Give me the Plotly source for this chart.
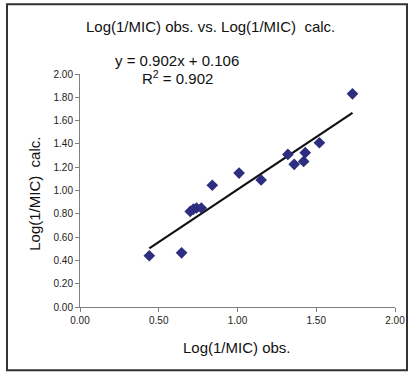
import plotly.graph_objects as go

obs = [0.44, 0.645, 0.70, 0.72, 0.74, 0.77, 0.84, 1.01, 1.15, 1.32, 1.36, 1.42, 1.43, 1.52, 1.73]
calc = [0.44, 0.465, 0.82, 0.84, 0.85, 0.85, 1.045, 1.15, 1.09, 1.31, 1.225, 1.25, 1.325, 1.41, 1.83]
slope = 0.902
intercept = 0.106
x_ticks = [0.0, 0.5, 1.0, 1.5, 2.0]
y_ticks = [0.0, 0.2, 0.4, 0.6, 0.8, 1.0, 1.2, 1.4, 1.6, 1.8, 2.0]

W, H = 410, 373
L, R, T, B = 80, 15, 74, 65.5
PW, PH = W - L - R, H - T - B

def px(x):
    return (x - L) / PW

def py(y):
    return (H - B - y) / PH

FONT = "Liberation Sans, Arial, sans-serif"

trend_x = [min(obs), max(obs)]
trend_y = [slope * v + intercept for v in trend_x]

fig = go.Figure()
fig.add_trace(go.Scatter(x=trend_x, y=trend_y, mode="lines",
                         line=dict(color="#111111", width=2.2), showlegend=False))
fig.add_trace(go.Scatter(x=obs, y=calc, mode="markers",
                         marker=dict(symbol="diamond", size=9, color="#2E2E80"),
                         showlegend=False))

axis_common = dict(showgrid=False, zeroline=False, showline=True, linecolor="#808080",
                   linewidth=1, ticks="outside", ticklen=4, tickcolor="#808080",
                   automargin=False,
                   tickformat=".2f", tickfont=dict(family=FONT, size=10, color="#222222"))
fig.update_xaxes(range=[0, 2], tickvals=x_ticks, **axis_common)
fig.update_yaxes(range=[0, 2], tickvals=y_ticks, **axis_common)

ann = [
    dict(text="Log(1/MIC) obs. vs. Log(1/MIC)  calc.", x=px(210), y=py(26), size=15),
    dict(text="y = 0.902x + 0.106", x=px(177), y=py(60), size=15),
    dict(text="R<sup>2</sup> = 0.902", x=px(177), y=py(78), size=15),
    dict(text="Log(1/MIC) obs.", x=px(237), y=py(348), size=15),
]
annotations = [dict(text=a["text"], x=a["x"], y=a["y"], xref="paper", yref="paper",
                    showarrow=False, xanchor="center", yanchor="middle",
                    font=dict(family=FONT, size=a["size"], color="#111111")) for a in ann]
annotations.append(dict(text="Log(1/MIC)  calc.", x=px(35), y=py(194), xref="paper", yref="paper",
                        showarrow=False, xanchor="center", yanchor="middle", textangle=-90,
                        font=dict(family=FONT, size=15, color="#111111")))

fig.update_layout(
    width=W, height=H, autosize=False,
    margin=dict(l=L, r=R, t=T, b=B),
    paper_bgcolor="white", plot_bgcolor="white",
    annotations=annotations,
    shapes=[dict(type="rect", xref="paper", yref="paper",
                 x0=px(7), y0=py(4), x1=px(407), y1=py(371),
                 line=dict(color="#333333", width=2))],
)

fig.write_html("out.html",
               config=dict(displayModeBar=False, responsive=False),
               post_script="document.body.style.margin='0';document.body.style.overflow='hidden';")
